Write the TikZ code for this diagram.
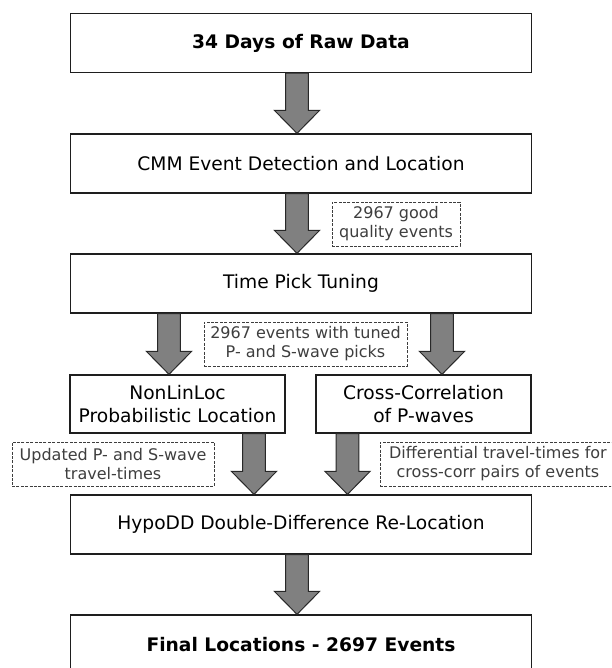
\documentclass[tikz,border=0pt]{standalone}
\usepackage{fontspec}
\setmainfont{DejaVu Sans}
\usepackage{tikz}
\usetikzlibrary{calc}
\tikzset{every picture/.style={line width=0.75pt}}

\definecolor{arrowfill}{RGB}{128,128,128}
\definecolor{arrowline}{RGB}{40,40,40}
\definecolor{notegray}{RGB}{62,62,62}

\tikzset{
  stagebox/.style={draw={rgb, 255:red, 30; green, 30; blue, 30}, line width=1pt, fill=white, inner sep=0pt, align=center, minimum width=345.75pt, minimum height=44.25pt, font=\fontsize{14}{17}\selectfont},
  halfbox/.style={stagebox, minimum width=161.25pt, minimum height=43.5pt},
  notebox/.style={draw=notegray, dash pattern=on 2.2pt off 1.1pt, line width=0.6pt, text=notegray, inner sep=0pt, align=center, minimum height=33pt, font=\fontsize{12}{14.25}\selectfont}
}

% block arrow: #1 x position, #2 from node, #3 to node
\newcommand{\flowarrow}[3]{%
  \draw [fill=arrowfill, draw=arrowline, line width=0.75pt] ($(#2.south -| #1)+(-11.3,0)$) -- ($(#3.north -| #1)+(-11.3,-23)$) -- ($(#3.north -| #1)+(-22.6,-23)$) -- (#3.north -| #1) -- ($(#3.north -| #1)+(22.6,-23)$) -- ($(#3.north -| #1)+(11.3,-23)$) -- ($(#2.south -| #1)+(11.3,0)$) -- cycle ;}

\begin{document}
\begin{tikzpicture}[x=0.75pt,y=0.75pt,yscale=-1,xscale=1]
\useasboundingbox (0,0) rectangle (611,668);
\clip (0,0) rectangle (611,668);

%Arrow positions
\coordinate (mainx) at (297,0);
\coordinate (tunelx) at (169,0);
\coordinate (tunerx) at (442,0);
\coordinate (hypolx) at (254,0);
\coordinate (hyporx) at (347.5,0);

%Shape: Rectangle [stages]
\node [stagebox] (rawdata) at (301,43) {\textbf{34 Days of Raw Data}};
\node [stagebox] (cmm) at (301,163.5) {CMM Event Detection and Location};
\node [stagebox] (tuning) at (301,283.5) {Time Pick Tuning};
\node [halfbox] (nonlinloc) at (177.5,404) {NonLinLoc\\Probabilistic Location};
\node [halfbox] (xcorr) at (423.5,404) {Cross-Correlation\\of P-waves};
\node [stagebox] (hypodd) at (301,524.5) {HypoDD Double-Difference Re-Location};
\node [stagebox, minimum height=45pt] (final) at (301,645) {\textbf{Final Locations - 2697 Events}};

%Block arrows
\flowarrow{mainx}{rawdata}{cmm}
\flowarrow{mainx}{cmm}{tuning}
\flowarrow{tunelx}{tuning}{nonlinloc}
\flowarrow{tunerx}{tuning}{xcorr}
\flowarrow{hypolx}{nonlinloc}{hypodd}
\flowarrow{hyporx}{xcorr}{hypodd}
\flowarrow{mainx}{hypodd}{final}

%Dashed notes
\node [notebox, minimum width=96pt] (goodnote) at (396,224) {2967 good\\quality events};
\node [notebox, minimum width=152.25pt] (tunednote) at (305.5,344) {2967 events with tuned\\P- and S-wave picks};
\node [notebox, minimum width=151.5pt] (ttnote) at (113,464) {Updated P- and S-wave\\travel-times};
\node [notebox, minimum width=177pt] (diffnote) at (498,464) {Differential travel-times for\\cross-corr pairs of events};

\end{tikzpicture}
\end{document}
